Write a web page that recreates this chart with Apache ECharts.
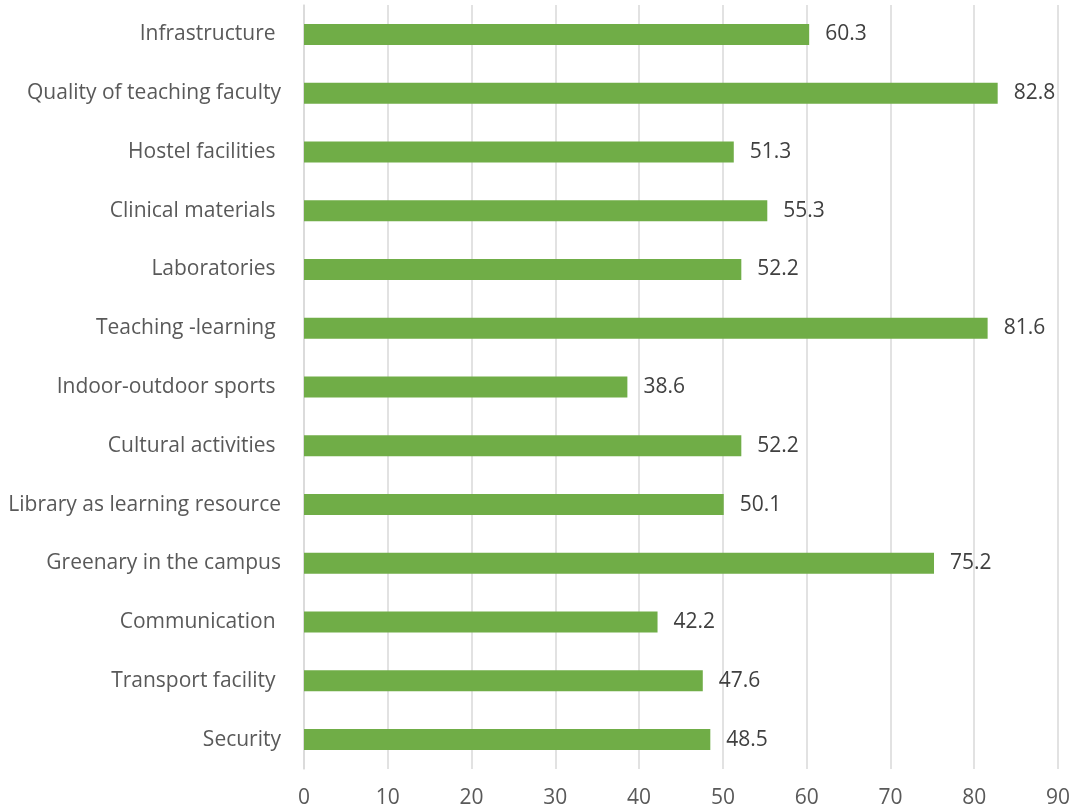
<!DOCTYPE html>
<html>
<head>
<meta charset="utf-8">
<script src="https://cdn.jsdelivr.net/npm/echarts@6/dist/echarts.min.js"></script>
<style>
  html, body { margin: 0; padding: 0; background: #fff; }
  #chart { width: 1074px; height: 812px; }
</style>
</head>
<body>
<div id="chart"></div>
<script>
// categories top to bottom as in the picture
const categories = [
  "Infrastructure ",
  "Quality of teaching faculty",
  "Hostel facilities ",
  "Clinical materials ",
  "Laboratories ",
  "Teaching -learning ",
  "Indoor-outdoor sports ",
  "Cultural activities ",
  "Library as learning resource",
  "Greenary in the campus",
  "Communication ",
  "Transport facility ",
  "Security"
];
const values = [60.3, 82.8, 51.3, 55.3, 52.2, 81.6, 38.6, 52.2, 50.1, 75.2, 42.2, 47.6, 48.5];
const xTicks = [0, 10, 20, 30, 40, 50, 60, 70, 80, 90];

const font = "'Open Sans', sans-serif";
const chart = echarts.init(document.getElementById("chart"));
chart.setOption({
  animation: false,
  grid: { left: 304, right: 16, top: 5, bottom: 43, containLabel: false },
  xAxis: {
    type: "value",
    min: xTicks[0],
    max: xTicks[xTicks.length - 1],
    interval: 10,
    axisLine: { show: false },
    axisTick: { show: false },
    splitLine: { lineStyle: { color: "#d9d9d9", width: 1.5 } },
    axisLabel: { color: "#595959", fontSize: 21, fontFamily: font, margin: 19 }
  },
  yAxis: {
    type: "category",
    inverse: true,
    data: categories,
    axisLine: { lineStyle: { color: "#d9d9d9", width: 1.5 } },
    axisTick: { show: false },
    axisLabel: { color: "#595959", fontSize: 21, fontFamily: font, margin: 23, padding: [4, 0, 0, 0] }
  },
  series: [{
    type: "bar",
    data: values,
    barWidth: 21,
    itemStyle: { color: "#70ad47" },
    label: {
      show: true,
      position: "right",
      distance: 16,
      color: "#404040",
      fontSize: 21,
      fontFamily: font,
      padding: [4, 0, 0, 0]
    }
  }]
});
</script>
</body>
</html>
